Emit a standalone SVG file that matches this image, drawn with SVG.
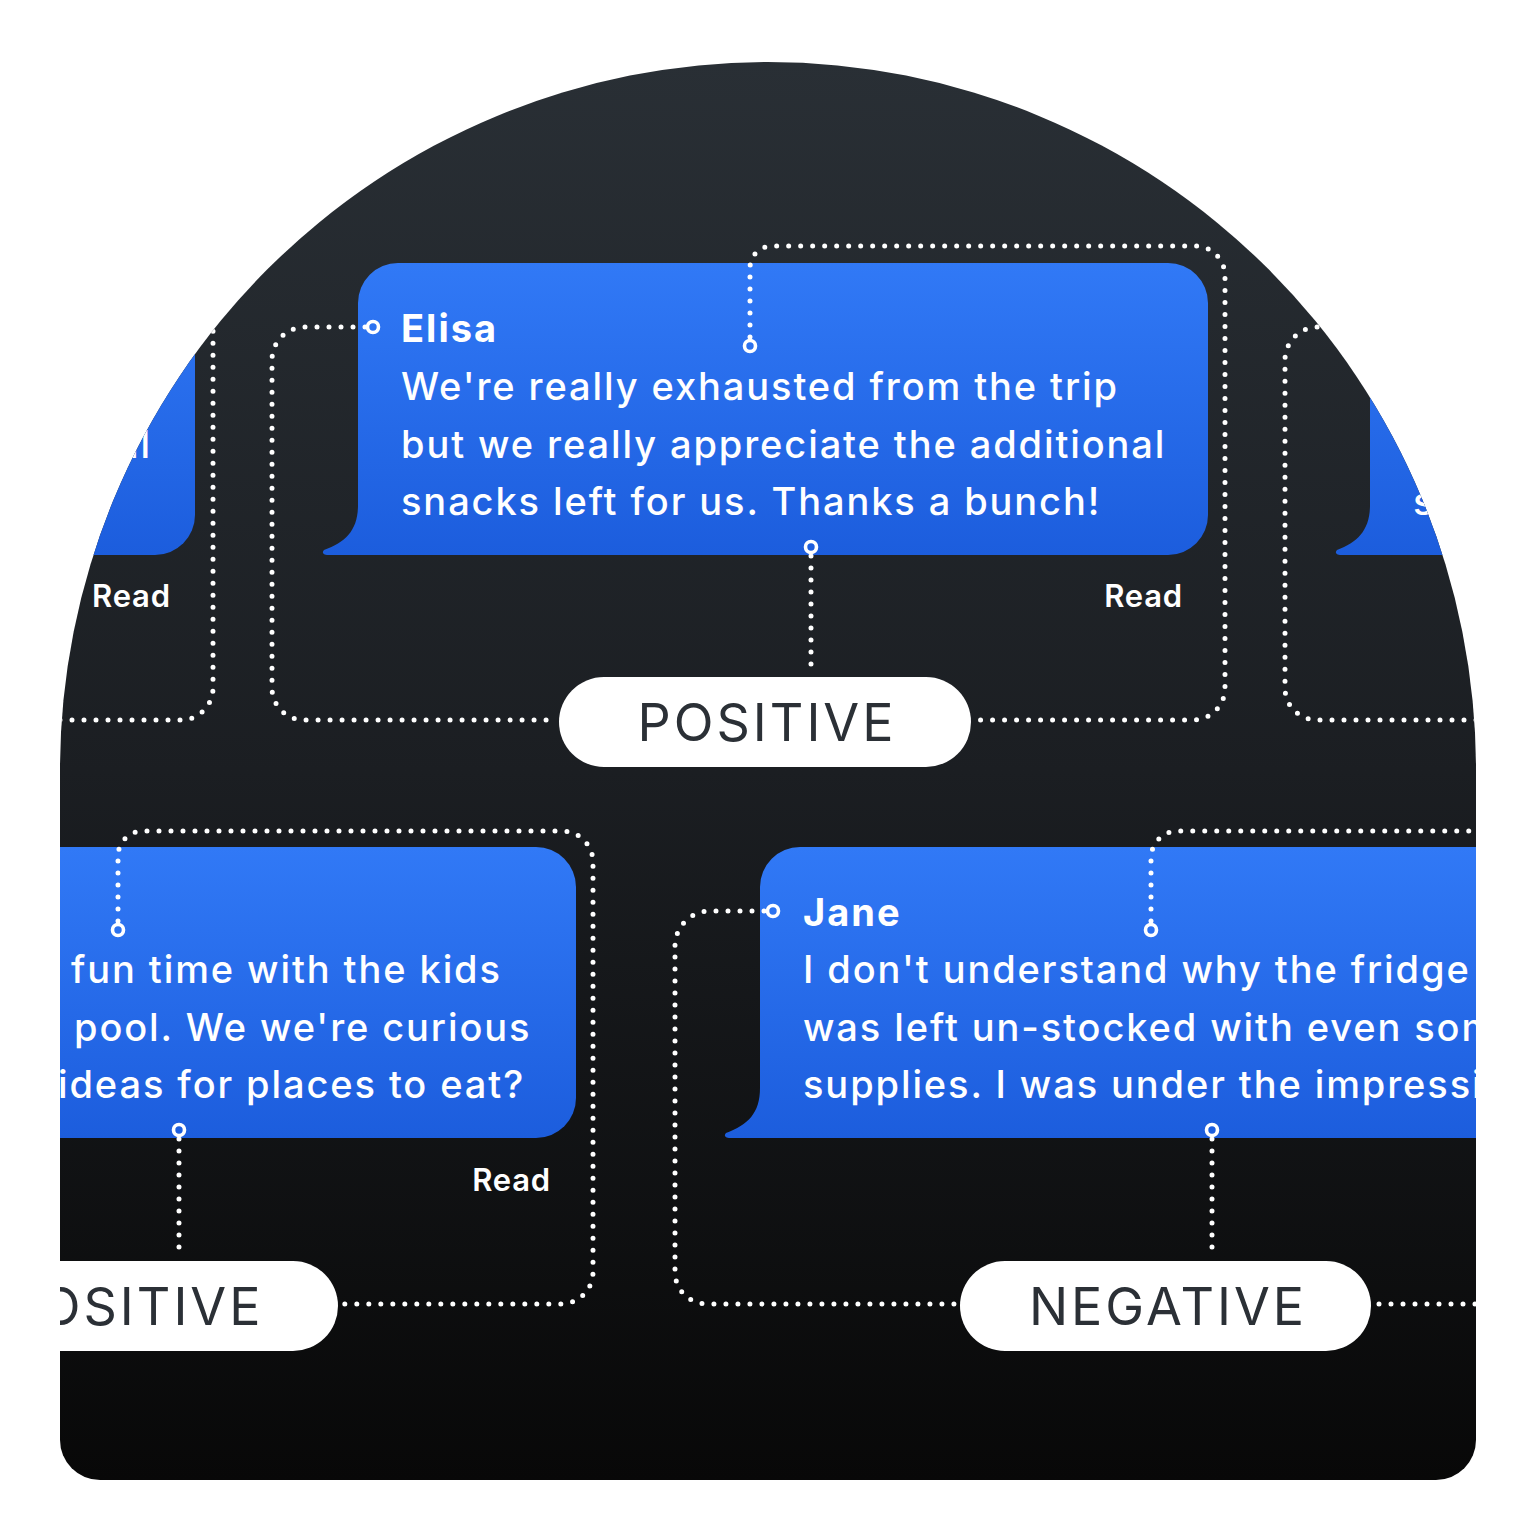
<svg xmlns="http://www.w3.org/2000/svg" width="1536" height="1536" viewBox="0 0 1536 1536">
<defs>
<linearGradient id="bg" x1="0" y1="62" x2="0" y2="1480" gradientUnits="userSpaceOnUse">
<stop offset="0" stop-color="#292f35"/>
<stop offset="0.5" stop-color="#1b1e22"/>
<stop offset="1" stop-color="#080808"/>
</linearGradient>
<linearGradient id="blueTop" x1="0" y1="263" x2="0" y2="555" gradientUnits="userSpaceOnUse">
<stop offset="0" stop-color="#3179f6"/>
<stop offset="1" stop-color="#1c5ddd"/>
</linearGradient>
<linearGradient id="blueBot" x1="0" y1="847" x2="0" y2="1138" gradientUnits="userSpaceOnUse">
<stop offset="0" stop-color="#3179f6"/>
<stop offset="1" stop-color="#1c5ddd"/>
</linearGradient>
<clipPath id="arch">
<path d="M60 770 A708 708 0 0 1 1476 770 V1440 A40 40 0 0 1 1436 1480 H100 A40 40 0 0 1 60 1440 Z"/>
</clipPath>
<style>
.dot{fill:none;stroke:#ffffff;stroke-width:5;stroke-linecap:round;stroke-dasharray:0 12}
.ring{fill:none;stroke:#ffffff;stroke-width:3.6}
.name{font-family:Inter,"Noto Sans",sans-serif;font-weight:700;font-size:38px;fill:#ffffff;letter-spacing:2px}
.body{font-family:Inter,"Noto Sans",sans-serif;font-weight:500;font-size:38px;fill:#ffffff;letter-spacing:1.9px}
.read{font-family:Inter,"Noto Sans",sans-serif;font-weight:600;font-size:31px;fill:#ffffff;letter-spacing:0.8px}
.pill{fill:#ffffff}
.ptext{font-family:Inter,"Noto Sans",sans-serif;font-weight:400;font-size:52px;fill:#2b3036;letter-spacing:3px}
</style>
</defs>
<rect width="1536" height="1536" fill="#ffffff"/>
<path d="M60 770 A708 708 0 0 1 1476 770 V1440 A40 40 0 0 1 1436 1480 H100 A40 40 0 0 1 60 1440 Z" fill="url(#bg)"/>
<g clip-path="url(#arch)">
<g id="bubble-left-top">
<path d="M0 263 H155 A40 40 0 0 1 195 303 V515 A40 40 0 0 1 155 555 H0 Z" fill="url(#blueTop)"/>
<text class="body" x="152" y="458" text-anchor="end">al</text>
<text class="read" x="92" y="607">Read</text>
</g>
<g id="bubble-elisa">
<path d="M398 263 H1168 A40 40 0 0 1 1208 303 V515 A40 40 0 0 1 1168 555 H330 Q320 555 324 550 C346 542 358 530 358 505 V303 A40 40 0 0 1 398 263 Z" fill="url(#blueTop)"/>
<text class="name" x="401" y="342">Elisa</text>
<text class="body" x="401" y="400">We're really exhausted from the trip</text>
<text class="body" x="401" y="458">but we really appreciate the additional</text>
<text class="body" x="401" y="515">snacks left for us. Thanks a bunch!</text>
<text class="read" x="1183" y="607" text-anchor="end">Read</text>
</g>
<g id="bubble-right-top">
<path d="M1410 263 H1536 V555 H1343 Q1333 555 1337 550 C1358 542 1370 530 1370 505 V303 A40 40 0 0 1 1410 263 Z" fill="url(#blueTop)"/>
<text class="body" x="1413" y="515">s</text>
</g>
<g id="bubble-bottom-left">
<path d="M0 847 H536 A40 40 0 0 1 576 887 V1098 A40 40 0 0 1 536 1138 H0 Z" fill="url(#blueBot)"/>
<text class="body" x="71" y="983">fun time with the kids</text>
<text class="body" x="74" y="1041">pool. We we're curious</text>
<text class="body" x="58" y="1098">ideas for places to eat?</text>
<text class="read" x="551" y="1191" text-anchor="end">Read</text>
</g>
<g id="bubble-jane">
<path d="M800 847 H1536 V1138 H732 Q722 1138 726 1133 C748 1125 760 1113 760 1088 V887 A40 40 0 0 1 800 847 Z" fill="url(#blueBot)"/>
<text class="name" x="803" y="926">Jane</text>
<text class="body" x="803" y="983">I don't understand why the fridge</text>
<text class="body" x="803" y="1041">was left un-stocked with even some</text>
<text class="body" x="803" y="1098">supplies. I was under the impression</text>
</g>
<g id="connectors">
<path class="dot" d="M365 327 H305 A33 33 0 0 0 272 360 V688 A32 32 0 0 0 304 720 H556"/>
<path class="dot" d="M750 337 V268 A22 22 0 0 1 772 246 H1195 A30 30 0 0 1 1225 276 V688 A32 32 0 0 1 1193 720 H974"/>
<path class="dot" d="M811 556 V668"/>
<path class="dot" d="M60 720 H181 A32 32 0 0 0 213 688 V200"/>
<path class="dot" d="M1476 720 H1317 A32 32 0 0 1 1285 688 V360 A33 33 0 0 1 1318 327 H1380"/>
<path class="dot" d="M118 921 V856 A25 25 0 0 1 143 831 H562 A31 31 0 0 1 593 862 V1272 A32 32 0 0 1 561 1304 H343"/>
<path class="dot" d="M179 1139 V1250"/>
<path class="dot" d="M764 911 H710 A35 35 0 0 0 675 946 V1272 A32 32 0 0 0 707 1304 H958"/>
<path class="dot" d="M1151 921 V858 A27 27 0 0 1 1178 831 H1480"/>
<path class="dot" d="M1212 1139 V1250"/>
<path class="dot" d="M1379 1304 H1480"/>
<circle class="ring" cx="373" cy="327" r="5.5"/>
<circle class="ring" cx="750" cy="346" r="5.5"/>
<circle class="ring" cx="811" cy="547" r="5.5"/>
<circle class="ring" cx="118" cy="930" r="5.5"/>
<circle class="ring" cx="179" cy="1130" r="5.5"/>
<circle class="ring" cx="773" cy="911" r="5.5"/>
<circle class="ring" cx="1151" cy="930" r="5.5"/>
<circle class="ring" cx="1212" cy="1130" r="5.5"/>
</g>
<g id="pill-positive-1">
<rect class="pill" x="559" y="677" width="412" height="90" rx="45"/>
<text class="ptext" x="767" y="741" text-anchor="middle">POSITIVE</text>
</g>
<g id="pill-positive-2">
<rect class="pill" x="-73" y="1261" width="411" height="90" rx="45"/>
<text class="ptext" x="134" y="1325" text-anchor="middle">POSITIVE</text>
</g>
<g id="pill-negative">
<rect class="pill" x="960" y="1261" width="411" height="90" rx="45"/>
<text class="ptext" x="1168" y="1325" text-anchor="middle">NEGATIVE</text>
</g>
</g>
</svg>
